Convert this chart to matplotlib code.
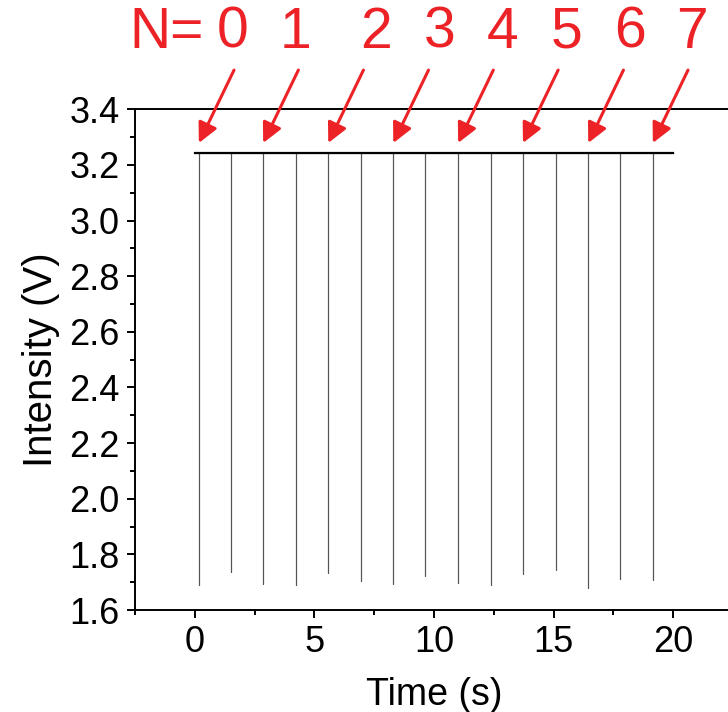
import matplotlib
matplotlib.use("Agg")
import matplotlib.pyplot as plt
from matplotlib.ticker import MultipleLocator

plt.rcParams['font.family'] = ['Liberation Sans', 'DejaVu Sans']

# data
baseline_level = 3.243          # V, flat top of the trace
trace_start, trace_end = 0.0, 20.0   # s
dip_times = [0.17, 1.50, 2.86, 4.22, 5.58, 6.93, 8.30, 9.64,
             11.01, 12.37, 13.72, 15.08, 16.45, 17.78, 19.15]
dip_minima = [1.690, 1.738, 1.693, 1.690, 1.732, 1.704, 1.693, 1.723,
              1.698, 1.690, 1.729, 1.743, 1.678, 1.713, 1.708]

# annotation: arrows point at every second dip
arrow_dips = [0, 2, 4, 6, 8, 10, 12, 14]
n_labels = ['N=', '0', '1', '2', '3', '4', '5', '6', '7']
n_label_x = [-1.17, 1.59, 4.23, 7.59, 10.23, 12.87, 15.56, 18.20, 20.80]

red = '#ec2227'

# build the trace from the values above
t = [trace_start]
v = [baseline_level]
for td, vm in zip(dip_times, dip_minima):
    t += [td, td, td]
    v += [baseline_level, vm, baseline_level]
t.append(trace_end)
v.append(baseline_level)

fig = plt.figure(figsize=(7.28, 7.12), dpi=100)
ax = fig.add_axes([135 / 728, 1 - 610 / 712, 598 / 728, 500.7 / 712])

ax.plot(t, v, color='#555555', lw=0.8)
ax.plot([trace_start, trace_end], [baseline_level, baseline_level], color='black', lw=1.6)

ax.set_xlim(-2.5, 22.5)
ax.set_ylim(1.6, 3.4)
ax.xaxis.set_major_locator(MultipleLocator(5))
ax.xaxis.set_minor_locator(MultipleLocator(2.5))
ax.yaxis.set_major_locator(MultipleLocator(0.2))
ax.yaxis.set_minor_locator(MultipleLocator(0.1))
ax.yaxis.set_major_formatter(plt.FormatStrFormatter('%.1f'))

ax.tick_params(which='major', direction='out', length=6, width=1.4, labelsize=26, pad=5)
ax.tick_params(which='minor', direction='out', length=3.5, width=1.4)
ax.tick_params(axis='both', top=False, right=False)
for s in ax.spines.values():
    s.set_linewidth(1.4)

ax.set_xlabel('Time (s)', fontsize=27, labelpad=12)
ax.set_ylabel('Intensity (V)', fontsize=29, labelpad=7)

# red arrows and N labels above the trace
for i in arrow_dips:
    tx = dip_times[i]
    ax.annotate('', xy=(tx, 3.279), xytext=(tx + 1.47, 3.541),
                arrowprops=dict(arrowstyle='-|>', color=red, lw=2.2,
                                mutation_scale=30, shrinkA=0, shrinkB=0),
                annotation_clip=False)

for lab, lx in zip(n_labels, n_label_x):
    ax.text(lx, 3.675, lab, color=red, fontsize=41, ha='center', va='center',
            clip_on=False)

fig.savefig('out.png', dpi=100)
